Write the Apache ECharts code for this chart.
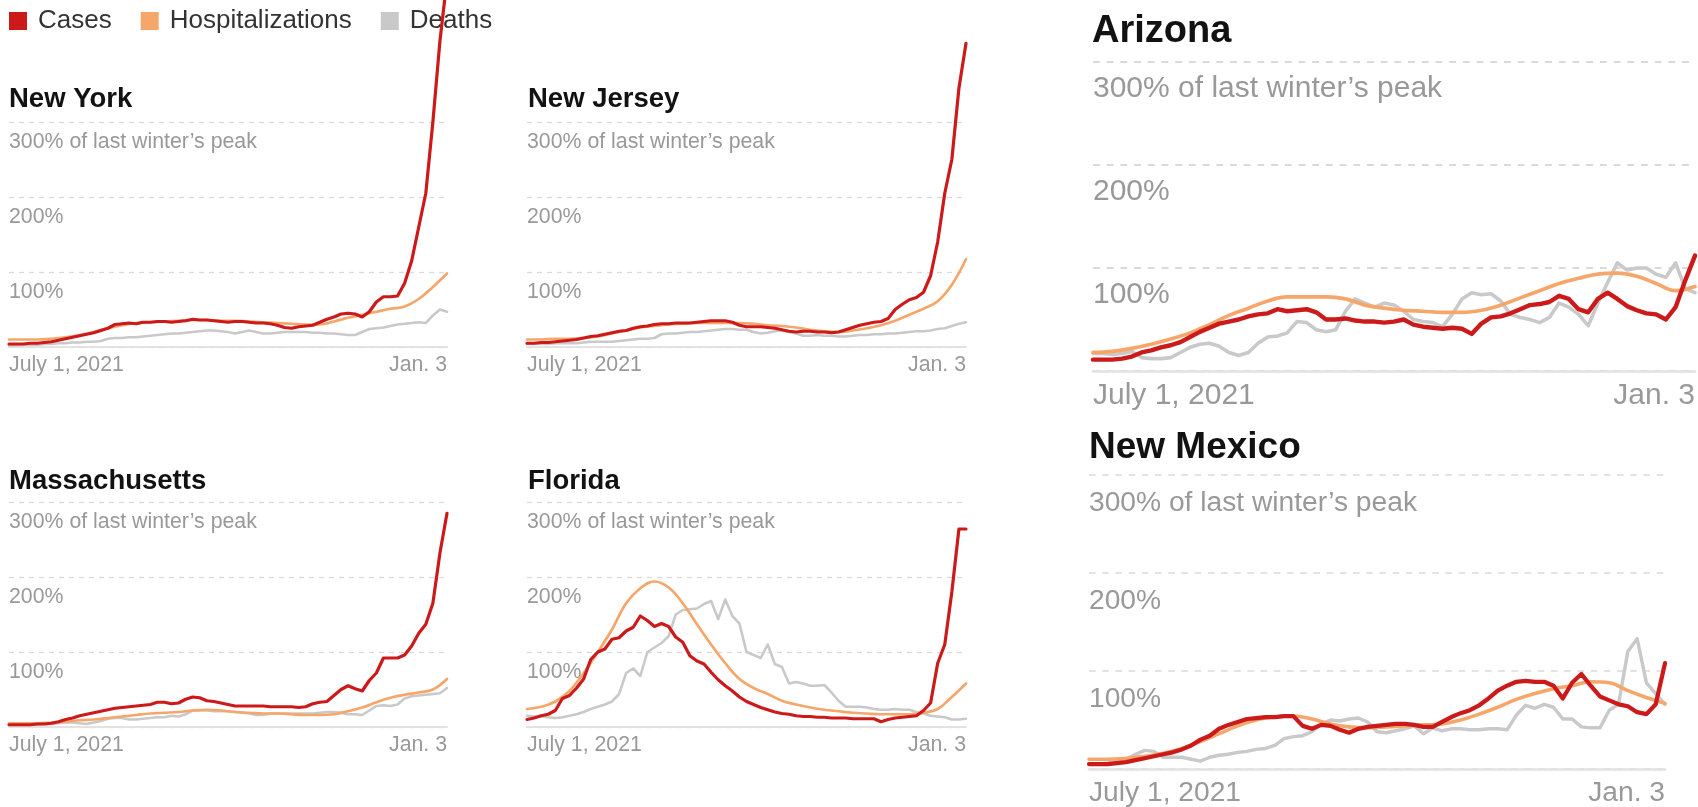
<!DOCTYPE html>
<html>
<head>
<meta charset="utf-8">
<script src="https://cdn.jsdelivr.net/npm/echarts@6/dist/echarts.min.js"></script>
<style>
html,body{margin:0;padding:0;background:#fff;}
#chart{width:1698px;height:807px;}
</style>
</head>
<body>
<div id="chart"></div>
<script>
// ---- data (percent of last winter's peak), July 1, 2021 -> Jan. 3, 2022 ----
const spanDays = 186;
const xTickLabels = ['July 1, 2021', 'Jan. 3'];
const yTickLabels = { 100: '100%', 200: '200%', 300: '300% of last winter\u2019s peak' };
const legendNames = ['Cases', 'Hospitalizations', 'Deaths'];

// cases & deaths: every 3 days; hospitalizations: every 6 days
const nyCases = [4,4,4,5,5,6,7,9,11,13,15,17,19,22,25,30,31,32,31,33,33,34,34,33,34,35,37,36,36,35,34,33,34,34,33,32,32,31,29,26,25,27,28,29,33,37,40,44,45,44,40,47,60,67,67,68,85,115,160,205,300,408,490];
const nyHosp = [10,10,10,11,13,16,20,25,29,32,33,34,35,36,36,35,35,34,33,32,31,30,30,34,39,43,47,51,54,64,80,98];
const nyDeaths = [2,2,3,3,3,4,4,5,5,6,6,7,7,8,11,12,12,13,13,14,15,16,17,18,18,19,20,21,22,22,21,20,18,20,22,20,18,18,19,20,20,20,20,19,19,18,18,17,16,16,20,24,25,26,28,30,31,32,33,32,42,50,47];

const njCases = [5,5,6,6,7,8,9,10,12,14,15,17,19,21,22,25,27,28,30,31,31,32,32,32,33,34,35,35,35,33,29,27,27,27,26,25,23,21,20,21,21,20,20,19,20,23,26,29,31,33,34,38,50,57,63,66,73,95,140,205,250,345,405];
const njHosp = [10,10,11,11,12,14,18,22,26,28,30,31,32,32,32,32,31,29,28,26,23,21,20,22,25,29,35,43,51,61,83,117];
const njDeaths = [4,4,4,4,5,5,5,5,6,7,7,7,7,8,9,10,11,11,12,17,18,18,19,20,20,21,22,23,24,24,23,23,20,18,19,21,22,20,18,15,15,16,15,15,14,14,15,16,16,17,17,18,18,19,20,21,21,22,24,25,28,31,33];

const maCases = [3,3,3,3,4,4,5,7,10,12,15,17,19,21,23,25,26,27,28,29,30,33,33,31,32,37,40,39,35,34,32,30,28,28,28,28,28,27,27,27,27,26,27,31,33,34,42,50,55,51,48,62,72,92,92,92,96,108,125,137,165,232,285];
const maHosp = [5,5,5,6,7,9,10,12,14,16,18,19,20,22,23,22,20,19,18,18,17,16,16,17,21,26,33,39,43,46,50,64];
const maDeaths = [3,3,3,3,3,4,4,5,6,6,5,4,6,8,11,12,12,10,10,11,12,13,13,15,14,17,22,22,22,21,21,21,20,19,18,16,16,18,18,18,18,18,18,18,19,20,20,19,17,17,16,22,28,29,28,30,38,41,42,43,44,45,52];

const flCases = [10,12,15,17,22,38,42,52,64,90,100,104,117,119,128,133,148,142,134,138,134,120,113,95,88,84,73,63,55,48,40,34,30,26,23,20,18,17,15,14,14,13,13,12,12,12,11,11,11,11,7,10,12,13,14,15,22,32,85,110,180,264,264];
const flHosp = [24,27,34,48,72,100,130,165,185,194,186,165,137,110,85,64,52,44,35,30,26,23,21,19,18,17,17,17,19,24,40,58];
const flDeaths = [15,14,14,13,12,13,15,17,20,24,27,30,34,44,72,78,68,100,106,112,121,150,156,157,158,164,168,144,170,148,138,100,96,92,110,84,80,58,60,58,55,55,56,46,35,27,27,27,26,24,23,23,24,23,23,20,18,15,14,13,10,10,11];

const azCases = [11,11,11,12,14,18,20,23,25,28,33,38,42,46,48,50,53,55,56,60,58,59,60,57,50,50,51,49,48,48,47,48,50,45,43,42,41,42,41,36,46,52,53,56,60,64,65,67,73,70,60,57,70,76,70,63,59,56,55,50,62,88,112];
const azHosp = [18,19,22,26,31,37,45,54,61,68,72,72,72,70,64,61,59,58,57,57,59,64,71,78,85,90,94,95,92,85,78,82];
const azDeaths = [17,17,16,17,19,13,12,12,13,18,23,26,27,24,18,15,18,27,33,34,37,48,47,40,38,40,58,70,66,62,66,64,58,50,48,47,43,55,70,76,74,75,68,55,52,50,47,52,66,62,55,44,66,86,105,98,100,100,94,91,105,80,76];

const nmCases = [5,5,5,6,7,9,11,13,15,17,20,24,30,34,41,45,48,51,52,53,53,54,54,44,41,45,44,40,37,41,43,44,45,46,46,45,43,43,48,53,57,60,65,72,80,85,89,90,89,89,85,72,88,97,85,74,70,66,64,58,56,66,108];
const nmHosp = [10,10,11,13,16,21,28,36,44,50,53,54,51,46,43,42,43,44,45,46,50,56,63,71,77,82,85,89,88,80,73,67];
const nmDeaths = [5,5,6,8,10,15,19,18,12,12,12,10,8,12,14,15,17,18,20,21,24,31,33,34,38,46,50,49,51,52,48,38,37,39,41,44,36,42,39,41,41,40,40,41,41,40,55,65,62,66,63,51,51,43,42,42,60,66,120,133,88,77,66];

// ---- layout (pixels) ----
const panels = [
  { title: 'New York',      cases: nyCases, hosp: nyHosp, deaths: nyDeaths, left: 9,    top: 122, width: 438, height: 225, titleLeft: 9,    titleTop: 85.5, titleSize: 27.5, fs: 21.3, s: 1,    labPad: 10,   xMargin: 8 },
  { title: 'New Jersey',    cases: njCases, hosp: njHosp, deaths: njDeaths, left: 527,  top: 122, width: 439, height: 225, titleLeft: 528,  titleTop: 85.5, titleSize: 27.5, fs: 21.3, s: 1,    labPad: 10,   xMargin: 8 },
  { title: 'Massachusetts', cases: maCases, hosp: maHosp, deaths: maDeaths, left: 9,    top: 502, width: 438, height: 225, titleLeft: 9,    titleTop: 467,  titleSize: 27.5, fs: 21.3, s: 1,    labPad: 10,   xMargin: 8 },
  { title: 'Florida',       cases: flCases, hosp: flHosp, deaths: flDeaths, left: 527,  top: 502, width: 439, height: 225, titleLeft: 528,  titleTop: 467,  titleSize: 27.5, fs: 21.3, s: 1,    labPad: 10,   xMargin: 8 },
  { title: 'Arizona',       cases: azCases, hosp: azHosp, deaths: azDeaths, left: 1093, top: 62,  width: 603, height: 309, titleLeft: 1092, titleTop: 12.5, titleSize: 38,   fs: 30,   s: 1.37, labPad: 12,   xMargin: 10 },
  { title: 'New Mexico',    cases: nmCases, hosp: nmHosp, deaths: nmDeaths, left: 1089, top: 475, width: 576, height: 297, titleLeft: 1089, titleTop: 429,  titleSize: 37,   fs: 28.2, s: 1.32, labPad: 14.2, xMargin: 10 }
];

const COLORS = { Cases: '#cc1a1a', Hospitalizations: '#f6a66b', Deaths: '#c9c9c9' };
const FONT = '"Liberation Sans", Arial, sans-serif';

function toPairs(arr) {
  const step = spanDays / (arr.length - 1);
  return arr.map((v, i) => [i * step, v]);
}

const grids = [], xAxes = [], yAxes = [], series = [], titles = [];
panels.forEach((p, i) => {
  const s = p.s;
  grids.push({ left: p.left, top: p.top, width: p.width, height: p.height, containLabel: false });
  titles.push({
    text: p.title, left: p.titleLeft, top: p.titleTop, padding: 0,
    textStyle: { fontFamily: FONT, fontSize: p.titleSize, fontWeight: 'bold', color: '#121212' }
  });
  xAxes.push({
    type: 'value', gridIndex: i, min: 0, max: spanDays, interval: spanDays,
    axisLine: { show: true, onZero: false, lineStyle: { color: '#e2e2e2', width: 2 * s } },
    axisTick: { show: false }, splitLine: { show: false },
    axisLabel: {
      show: true, margin: p.xMargin, color: '#999', fontFamily: FONT, fontSize: p.fs,
      showMinLabel: true, showMaxLabel: true,
      alignMinLabel: 'left', alignMaxLabel: 'right',
      formatter: v => (v === 0 ? xTickLabels[0] : (v === spanDays ? xTickLabels[1] : ''))
    }
  });
  yAxes.push({
    type: 'value', gridIndex: i, min: 0, max: 300, interval: 100,
    axisLine: { show: false }, axisTick: { show: false },
    splitLine: { show: true, lineStyle: { color: '#dadada', width: 1.3 * s, type: [5 * s, 5 * s] } },
    axisLabel: {
      inside: true, margin: 0, align: 'left', verticalAlign: 'top',
      padding: [p.labPad, 0, 0, 0], color: '#999', fontFamily: FONT, fontSize: p.fs,
      formatter: v => yTickLabels[v] || ''
    }
  });
  const mk = (name, data, width, z, smooth) => ({
    name, type: 'line', xAxisIndex: i, yAxisIndex: i, data: toPairs(data),
    showSymbol: false, symbol: 'none', clip: false, silent: true, z, smooth,
    color: COLORS[name],
    lineStyle: { color: COLORS[name], width, join: 'round', cap: 'round' }
  });
  series.push(mk('Deaths', p.deaths, 2.6 * s, 2, false));
  series.push(mk('Hospitalizations', p.hosp, 2.7 * s, 3, 0.4));
  series.push(mk('Cases', p.cases, 3.2 * s, 4, false));
});

const chart = echarts.init(document.getElementById('chart'), null, { renderer: 'canvas' });
chart.setOption({
  animation: false,
  backgroundColor: '#fff',
  textStyle: { fontFamily: FONT },
  title: titles,
  legend: {
    data: legendNames, left: 9, top: 8, padding: 0, z: 1,
    icon: 'rect', itemWidth: 18, itemHeight: 18, itemGap: 29, selectedMode: false,
    textStyle: { fontFamily: FONT, fontSize: 26, color: '#333', padding: [0, 0, 0, 6] }
  },
  grid: grids, xAxis: xAxes, yAxis: yAxes, series
});
</script>
</body>
</html>
